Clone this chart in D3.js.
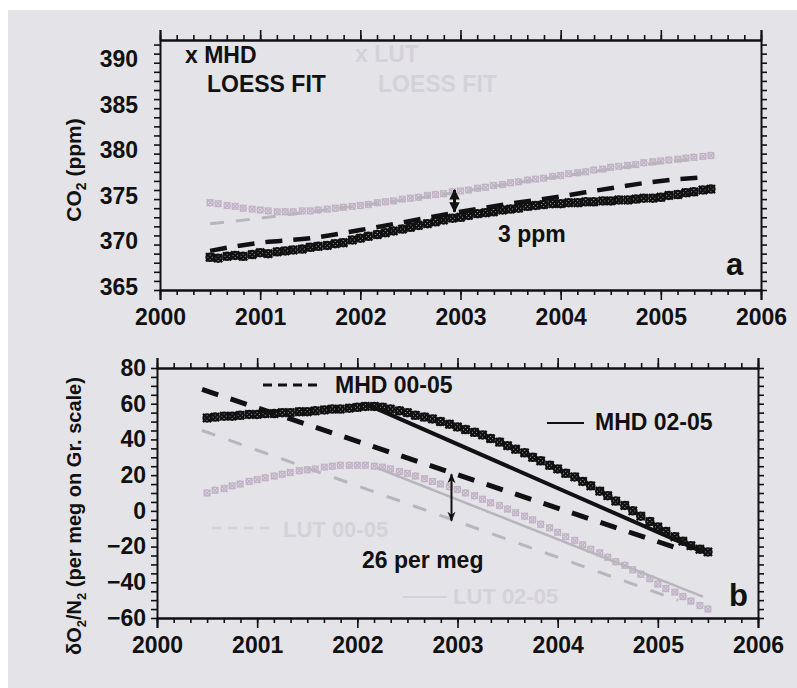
<!DOCTYPE html>
<html>
<head>
<meta charset="utf-8">
<script src="https://cdn.jsdelivr.net/npm/d3@7.9.0/dist/d3.min.js"></script>
<style>
  body { margin: 0; background: #fff; }
  svg { display: block; font-family: "Liberation Sans", Arial, sans-serif; font-weight: bold; }
</style>
</head>
<body>
<svg id="chart" width="797" height="688"></svg>
<script>
// ========== Data ==========

// monthly sample times (decimal years)
const months = [
  2000.50, 2000.58, 2000.67, 2000.75, 2000.83, 2000.92,
  2001.00, 2001.08, 2001.17, 2001.25, 2001.33, 2001.42, 2001.50, 2001.58, 2001.67, 2001.75, 2001.83, 2001.92,
  2002.00, 2002.08, 2002.17, 2002.25, 2002.33, 2002.42, 2002.50, 2002.58, 2002.67, 2002.75, 2002.83, 2002.92,
  2003.00, 2003.08, 2003.17, 2003.25, 2003.33, 2003.42, 2003.50, 2003.58, 2003.67, 2003.75, 2003.83, 2003.92,
  2004.00, 2004.08, 2004.17, 2004.25, 2004.33, 2004.42, 2004.50, 2004.58, 2004.67, 2004.75, 2004.83, 2004.92,
  2005.00, 2005.08, 2005.17, 2005.25, 2005.33, 2005.42, 2005.50
];

// panel a: CO2 (ppm)
const co2Mhd = [
  368.6, 368.5, 368.7, 368.8, 368.7, 368.9,
  369.1, 369.0, 369.2, 369.3, 369.4, 369.5, 369.7, 369.8, 369.9, 370.1, 370.2, 370.5,
  370.7, 370.9, 371.1, 371.3, 371.5, 371.7, 371.9, 372.1, 372.3, 372.5, 372.7, 372.9,
  373.0, 373.2, 373.4, 373.5, 373.6, 373.8, 373.9, 374.0, 374.2, 374.3, 374.4, 374.5,
  374.5, 374.6, 374.6, 374.7, 374.7, 374.8, 374.8, 374.9, 374.9, 375.0, 375.1, 375.1,
  375.2, 375.4, 375.5, 375.7, 375.8, 376.0, 376.1
];
const co2Lut = [
  374.6, 374.5, 374.3, 374.2, 374.0, 373.9,
  373.8, 373.7, 373.6, 373.6, 373.6, 373.7, 373.7, 373.8, 373.9, 374.0, 374.1, 374.2,
  374.3, 374.4, 374.6, 374.7, 374.8, 375.0, 375.1, 375.2, 375.4, 375.5, 375.6, 375.8,
  375.9, 376.0, 376.2, 376.3, 376.5, 376.6, 376.8, 376.9, 377.1, 377.2, 377.3, 377.5,
  377.6, 377.8, 377.9, 378.0, 378.2, 378.3, 378.5, 378.6, 378.7, 378.8, 379.0, 379.1,
  379.2, 379.3, 379.4, 379.5, 379.6, 379.7, 379.8
];
const co2MhdFit = [
  [2000.5, 369.3], [2000.75, 369.8], [2001, 370.2], [2001.5, 370.7], [2002, 371.6],
  [2002.5, 372.6], [2003, 373.6], [2003.5, 374.5], [2004, 375.3], [2004.5, 376.2],
  [2005, 377.0], [2005.45, 377.4]
];
const co2LutFit = [
  [2000.5, 372.3], [2001, 372.9], [2001.5, 373.6], [2002, 374.3], [2002.5, 375.0],
  [2003, 375.8], [2003.5, 376.7], [2004, 377.5], [2004.5, 378.3], [2005, 379.0], [2005.4, 379.5]
];
const co2Gap = [2002.94, 373.6, 376.0];

// panel b: dO2/N2 (per meg)
const o2Mhd = [
  52.0, 52.5, 53.0, 53.0, 53.5, 54.0,
  54.0, 54.5, 54.5, 55.0, 55.0, 55.5, 55.5, 56.0, 56.5, 57.0, 57.0, 57.5,
  58.0, 58.5, 58.5, 58.0, 57.0, 56.0, 55.0, 53.5, 52.5, 51.5, 50.0, 48.5,
  47.0, 45.5, 44.0, 42.5, 40.5, 38.5, 36.5, 34.5, 32.5, 30.0, 28.0, 25.5,
  23.5, 21.0, 19.0, 16.5, 14.0, 11.0, 8.5, 5.5, 3.0, 0.0, -3.0, -6.0,
  -9.0, -11.5, -14.5, -17.0, -19.5, -21.5, -23.0
];
const o2Lut = [
  10.0, 11.5, 12.5, 14.0, 15.0, 16.5,
  17.5, 18.5, 19.5, 20.5, 21.5, 22.5, 23.0, 23.5, 24.5, 25.0, 25.5, 25.5,
  25.5, 25.5, 25.0, 24.5, 23.5, 22.0, 21.0, 19.5, 18.0, 16.5, 15.0, 13.5,
  12.0, 10.0, 8.5, 6.5, 4.5, 3.0, 1.0, -1.0, -3.0, -5.0, -7.5, -9.5,
  -12.0, -14.5, -16.5, -19.0, -21.5, -23.5, -26.0, -28.5, -30.5, -33.0, -35.5, -38.0,
  -41.0, -43.5, -45.5, -48.0, -50.5, -53.0, -55.0
];
const o2MhdFit0005 = [[2000.45, 68], [2005.2, -21]];
const o2MhdFit0205 = [[2002.1, 59.5], [2005.45, -23]];
const o2LutFit0005 = [[2000.45, 45], [2005.2, -50]];
const o2LutFit0205 = [[2002.2, 24], [2005.45, -48]];
const o2Gap = [2002.94, -5.5, 20.5];

// axis ticks
const yearTicks = [2000, 2001, 2002, 2003, 2004, 2005, 2006];
const co2Ticks = [365, 370, 375, 380, 385, 390];
const o2Ticks = [-60, -40, -20, 0, 20, 40, 60, 80];

// ========== Setup ==========

const svg = d3.select('#chart');
const INK = '#111';
const FADE = '#c1b2c5';
const FADE_LINE = '#b8b5bd';
const FADE_TEXT = '#d4d2d8';

// scanned page background
svg.append('rect').attr('x', 8).attr('y', 10).attr('width', 789).attr('height', 678).attr('fill', '#e4e3e8');

svg.append('defs').html(`
  <marker id="headA" viewBox="0 0 10 10" refX="9" refY="5" markerWidth="4" markerHeight="3.5" orient="auto-start-reverse">
    <path d="M0,0L10,5L0,10z" fill="${INK}"/>
  </marker>
  <marker id="headB" viewBox="0 0 10 10" refX="9" refY="5" markerWidth="5" markerHeight="5" orient="auto-start-reverse">
    <path d="M0,1L10,5L0,9L3,5z" fill="${INK}"/>
  </marker>
`);

// draws frame with major/minor ticks pointing outward on all four sides
function drawFrame(g, x, y, yMinorStep) {
  const [x0, x1] = x.range();
  const [y0, y1] = y.range();
  const minorX = d3.range(2000, 2006.001, 1 / 6);
  const [d0, d1] = y.domain();
  const minorY = d3.range(Math.ceil(d0 / yMinorStep) * yMinorStep, d1 + 0.001, yMinorStep);

  const add = (axis, tx, ty) => {
    const a = g.append('g').attr('transform', `translate(${tx},${ty})`).call(axis);
    a.select('.domain').attr('stroke', INK).attr('stroke-width', 2);
    a.selectAll('.tick line').attr('stroke', INK).attr('stroke-width', 1.6);
    return a;
  };

  add(d3.axisBottom(x).tickValues(minorX).tickSize(5).tickSizeOuter(0).tickFormat(''), 0, y0);
  add(d3.axisTop(x).tickValues(minorX).tickSize(5).tickSizeOuter(0).tickFormat(''), 0, y1);
  add(d3.axisBottom(x).tickValues(yearTicks).tickSize(10).tickFormat(''), 0, y0);
  add(d3.axisTop(x).tickValues(yearTicks).tickSize(10).tickFormat(''), 0, y1);
  add(d3.axisLeft(y).tickValues(minorY).tickSize(6).tickSizeOuter(0).tickFormat(''), x0, 0);
  add(d3.axisRight(y).tickValues(minorY).tickSize(6).tickSizeOuter(0).tickFormat(''), x1, 0);
}

function drawSymbols(g, x, y, values, color, r, sw) {
  const pts = months.map((t, i) => [x(t), y(values[i])]);
  const cross = d3.symbol(d3.symbolTimes, r * r * 3.5);
  g.append('g').selectAll('circle').data(pts).join('circle')
    .attr('cx', d => d[0]).attr('cy', d => d[1]).attr('r', r)
    .attr('fill', 'none').attr('stroke', color).attr('stroke-width', sw);
  g.append('g').selectAll('path').data(pts).join('path')
    .attr('transform', d => `translate(${d[0]},${d[1]})`)
    .attr('d', cross).attr('fill', 'none').attr('stroke', color).attr('stroke-width', sw);
}

function drawLine(g, x, y, pts, color, width, dash) {
  const line = d3.line().x(d => x(d[0])).y(d => y(d[1])).curve(d3.curveMonotoneX);
  g.append('path').attr('d', line(pts)).attr('fill', 'none')
    .attr('stroke', color).attr('stroke-width', width)
    .attr('stroke-dasharray', dash || null);
}

function addText(g, x, y, str, size, color, anchor) {
  return g.append('text').attr('x', x).attr('y', y).attr('font-size', size)
    .attr('fill', color || INK).attr('text-anchor', anchor || 'start').text(str);
}

// ========== Panel a: CO2 ==========

const xA = d3.scaleLinear().domain([2000, 2006]).range([160, 761]);
const yA = d3.scaleLinear().domain([365, 392.5]).range([290, 40]);
const gA = svg.append('g');

// faded LUT series and labels
addText(gA, 355, 62, 'x LUT', 23, FADE_TEXT);
addText(gA, 378, 92, 'LOESS FIT', 23, FADE_TEXT);
drawSymbols(gA, xA, yA, co2Lut, FADE, 3, 1.4);
drawLine(gA, xA, yA, co2LutFit, FADE_LINE, 3, '14,12');

// MHD series
drawSymbols(gA, xA, yA, co2Mhd, INK, 3.6, 2.3);
drawLine(gA, xA, yA, co2MhdFit, INK, 4.5, '17,11');

drawFrame(gA, xA, yA, 1);

// year labels
gA.append('g').attr('transform', `translate(0,290)`)
  .call(d3.axisBottom(xA).tickValues(yearTicks).tickSize(0).tickPadding(19).tickFormat(d3.format('d')))
  .call(a => a.select('.domain').remove())
  .selectAll('text').attr('font-size', 23).attr('font-family', null).attr('fill', INK);

// value labels
gA.append('g').attr('transform', `translate(160,0)`)
  .call(d3.axisLeft(yA).tickValues(co2Ticks).tickSize(0).tickPadding(22))
  .call(a => a.select('.domain').remove())
  .selectAll('text').attr('font-size', 23).attr('font-family', null).attr('fill', INK).attr('dy', '0.18em');

addText(gA, 185, 63, 'x MHD', 23);
addText(gA, 207, 92, 'LOESS FIT', 23);

// gap arrow
gA.append('line')
  .attr('x1', xA(co2Gap[0])).attr('x2', xA(co2Gap[0]))
  .attr('y1', yA(co2Gap[1])).attr('y2', yA(co2Gap[2]))
  .attr('stroke', INK).attr('stroke-width', 3)
  .attr('marker-start', 'url(#headA)').attr('marker-end', 'url(#headA)');
addText(gA, 498, 242, '3 ppm', 23);
addText(gA, 726, 275, 'a', 31);

// axis title
const tA = gA.append('text').attr('transform', 'translate(81,170) rotate(-90)')
  .attr('text-anchor', 'middle').attr('font-size', 21).attr('fill', INK);
tA.append('tspan').text('CO');
tA.append('tspan').text('2').attr('font-size', 14).attr('dy', 5);
tA.append('tspan').text(' (ppm)').attr('dy', -5);

// ========== Panel b: O2/N2 ==========

const xB = d3.scaleLinear().domain([2000, 2006]).range([157, 758]);
const yB = d3.scaleLinear().domain([-60, 80]).range([618, 368]);
const gB = svg.append('g');

// faded LUT series and labels
addText(gB, 283, 537, 'LUT 00-05', 22, FADE_TEXT);
gB.append('line').attr('x1', 212).attr('x2', 276).attr('y1', 528).attr('y2', 528)
  .attr('stroke', FADE_TEXT).attr('stroke-width', 2.5).attr('stroke-dasharray', '9,7');
addText(gB, 453, 604, 'LUT 02-05', 22, FADE_TEXT);
gB.append('line').attr('x1', 403).attr('x2', 447).attr('y1', 597).attr('y2', 597)
  .attr('stroke', FADE_TEXT).attr('stroke-width', 2);
drawSymbols(gB, xB, yB, o2Lut, FADE, 3, 1.4);
drawLine(gB, xB, yB, o2LutFit0005, FADE_LINE, 3, '14,14');
drawLine(gB, xB, yB, o2LutFit0205, FADE_LINE, 2.5);

// MHD series
drawSymbols(gB, xB, yB, o2Mhd, INK, 3.6, 2.3);
drawLine(gB, xB, yB, o2MhdFit0005, INK, 5, '17,13');
drawLine(gB, xB, yB, o2MhdFit0205, INK, 4);

drawFrame(gB, xB, yB, 5);

gB.append('g').attr('transform', `translate(0,618)`)
  .call(d3.axisBottom(xB).tickValues(yearTicks).tickSize(0).tickPadding(19).tickFormat(d3.format('d')))
  .call(a => a.select('.domain').remove())
  .selectAll('text').attr('font-size', 23).attr('font-family', null).attr('fill', INK);

gB.append('g').attr('transform', `translate(157,0)`)
  .call(d3.axisLeft(yB).tickValues(o2Ticks).tickSize(0).tickPadding(11))
  .call(a => a.select('.domain').remove())
  .selectAll('text').attr('font-size', 23).attr('font-family', null).attr('fill', INK);

// legend
gB.append('line').attr('x1', 263).attr('x2', 318).attr('y1', 385).attr('y2', 385)
  .attr('stroke', INK).attr('stroke-width', 3).attr('stroke-dasharray', '9,6');
addText(gB, 335, 393, 'MHD 00-05', 23);
gB.append('line').attr('x1', 547).attr('x2', 584).attr('y1', 423).attr('y2', 423)
  .attr('stroke', INK).attr('stroke-width', 2);
addText(gB, 595, 430, 'MHD 02-05', 23);

// gap arrow
gB.append('line')
  .attr('x1', xB(o2Gap[0])).attr('x2', xB(o2Gap[0]))
  .attr('y1', yB(o2Gap[1])).attr('y2', yB(o2Gap[2]))
  .attr('stroke', INK).attr('stroke-width', 2)
  .attr('marker-start', 'url(#headB)').attr('marker-end', 'url(#headB)');
addText(gB, 362, 568, '26 per meg', 23);
addText(gB, 729, 606, 'b', 31);

// axis title
const tB = gB.append('text').attr('transform', 'translate(81,516) rotate(-90)')
  .attr('text-anchor', 'middle').attr('font-size', 20).attr('fill', INK);
tB.append('tspan').text('δO');
tB.append('tspan').text('2').attr('font-size', 13).attr('dy', 5);
tB.append('tspan').text('/N').attr('dy', -5);
tB.append('tspan').text('2').attr('font-size', 13).attr('dy', 5);
tB.append('tspan').text(' (per meg on Gr. scale)').attr('dy', -5);
</script>
</body>
</html>
